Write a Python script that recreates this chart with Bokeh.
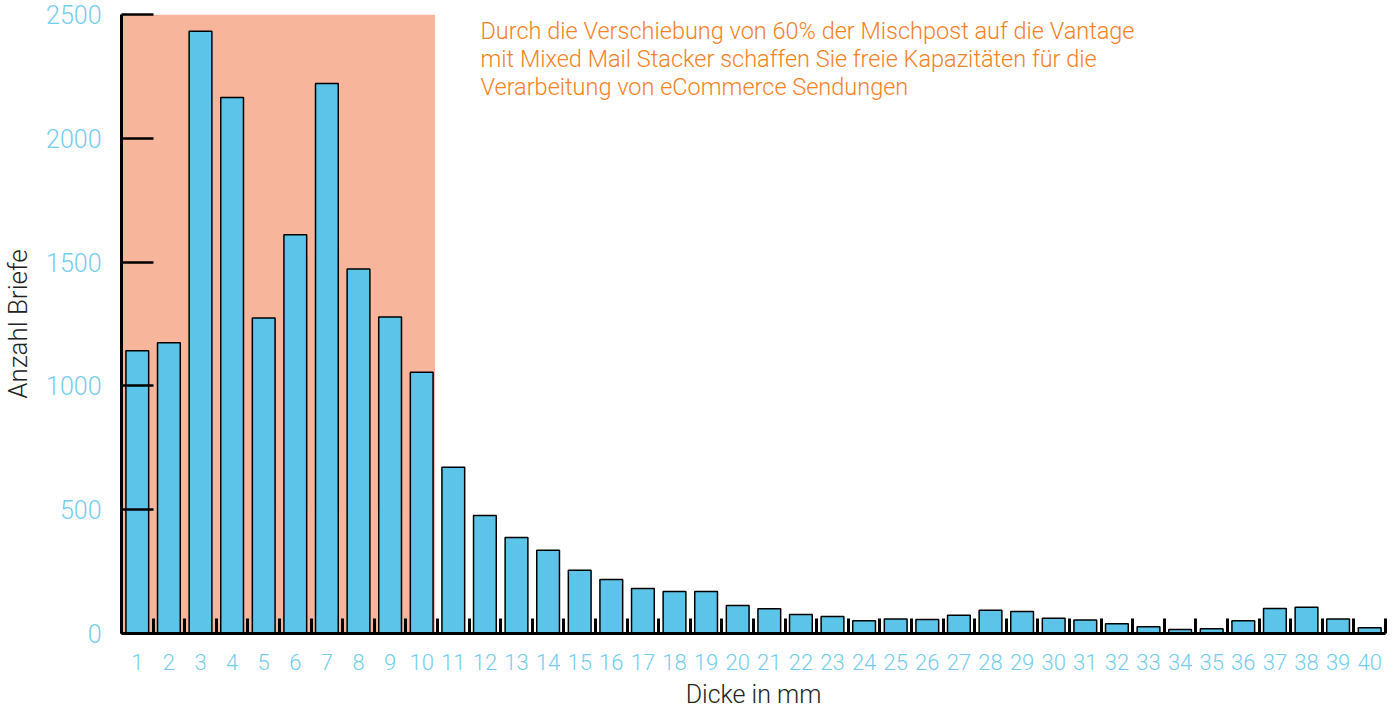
from bokeh.plotting import figure
from bokeh.models import FixedTicker, Range1d, BoxAnnotation, Label, ColumnDataSource
from bokeh.embed import file_html
from bokeh.resources import INLINE

# ---- data ----
thickness_mm = list(range(1, 41))
letters = [1142, 1174, 2432, 2165, 1274, 1610, 2221, 1472, 1278, 1055,
           671, 477, 388, 336, 255, 218, 182, 170, 170, 113,
           100, 77, 69, 51, 59, 57, 74, 94, 89, 62,
           55, 39, 27, 16, 19, 51, 101, 106, 59, 23]
y_ticks = [0, 500, 1000, 1500, 2000, 2500]
shaded_categories = 10
note = ("Durch die Verschiebung von 60% der Mischpost auf die Vantage\n"
        "mit Mixed Mail Stacker schaffen Sie freie Kapazitäten für die\n"
        "Verarbeitung von eCommerce Sendungen")

FONT = "'Roboto Light', Roboto"
BAR = "#5bc4e8"
SHADE = "#f7b59b"
TICKLBL = "#74cdee"
NOTE = "#f5821f"

src = ColumnDataSource(dict(x=thickness_mm, top=letters))

p = figure(width=1394, height=715,
           x_range=Range1d(0.5, len(thickness_mm) + 0.5),
           y_range=Range1d(0, 2500),
           output_backend="svg", toolbar_location=None,
           min_border_left=120, min_border_top=14, min_border_right=9, min_border_bottom=82)
p.outline_line_color = None
p.grid.visible = False
p.background_fill_color = "white"

p.add_layout(BoxAnnotation(left=0.5, right=shaded_categories + 0.42,
                           fill_color=SHADE, fill_alpha=1.0, line_color=None,
                           level="underlay"))

p.vbar(x="x", top="top", width=0.72, bottom=0, source=src,
       fill_color=BAR, line_color="black", line_width=1.5)

# x axis
xa = p.xaxis[0]
xa.ticker = FixedTicker(ticks=thickness_mm,
                        minor_ticks=[c - 0.5 for c in thickness_mm] + [thickness_mm[-1] + 0.5])
xa.major_tick_in = 0
xa.major_tick_out = 0
xa.minor_tick_in = 15
xa.minor_tick_out = 0
xa.minor_tick_line_width = 3
xa.minor_tick_line_color = "black"
xa.axis_line_width = 3
xa.axis_line_color = "black"
xa.major_label_text_color = TICKLBL
xa.major_label_text_font = FONT
xa.major_label_text_font_size = "22px"
xa.major_label_standoff = 20
xa.axis_label = "Dicke in mm"
xa.axis_label_text_font = FONT
xa.axis_label_text_font_style = "normal"
xa.axis_label_text_font_size = "25px"
xa.axis_label_text_color = "#222222"
xa.axis_label_standoff = 7

# y axis
ya = p.yaxis[0]
ya.ticker = FixedTicker(ticks=y_ticks, minor_ticks=[])
ya.major_tick_in = 32
ya.major_tick_out = 0
ya.major_tick_line_width = 2.5
ya.major_tick_line_color = "black"
ya.minor_tick_line_color = None
ya.axis_line_width = 3
ya.axis_line_color = "black"
ya.major_label_text_color = TICKLBL
ya.major_label_text_font = FONT
ya.major_label_text_font_size = "25px"
ya.major_label_standoff = 20
ya.axis_label = "Anzahl Briefe"
ya.axis_label_text_font = FONT
ya.axis_label_text_font_style = "normal"
ya.axis_label_text_font_size = "26px"
ya.axis_label_text_color = "#222222"
ya.axis_label_standoff = 10

p.add_layout(Label(x=11.86, y=2490, text=note, text_align="left", text_baseline="top",
                   text_font=FONT, text_font_size="23.5px", text_color=NOTE,
                   text_line_height=1.0))

open("out.html", "w").write(file_html(p, INLINE))
